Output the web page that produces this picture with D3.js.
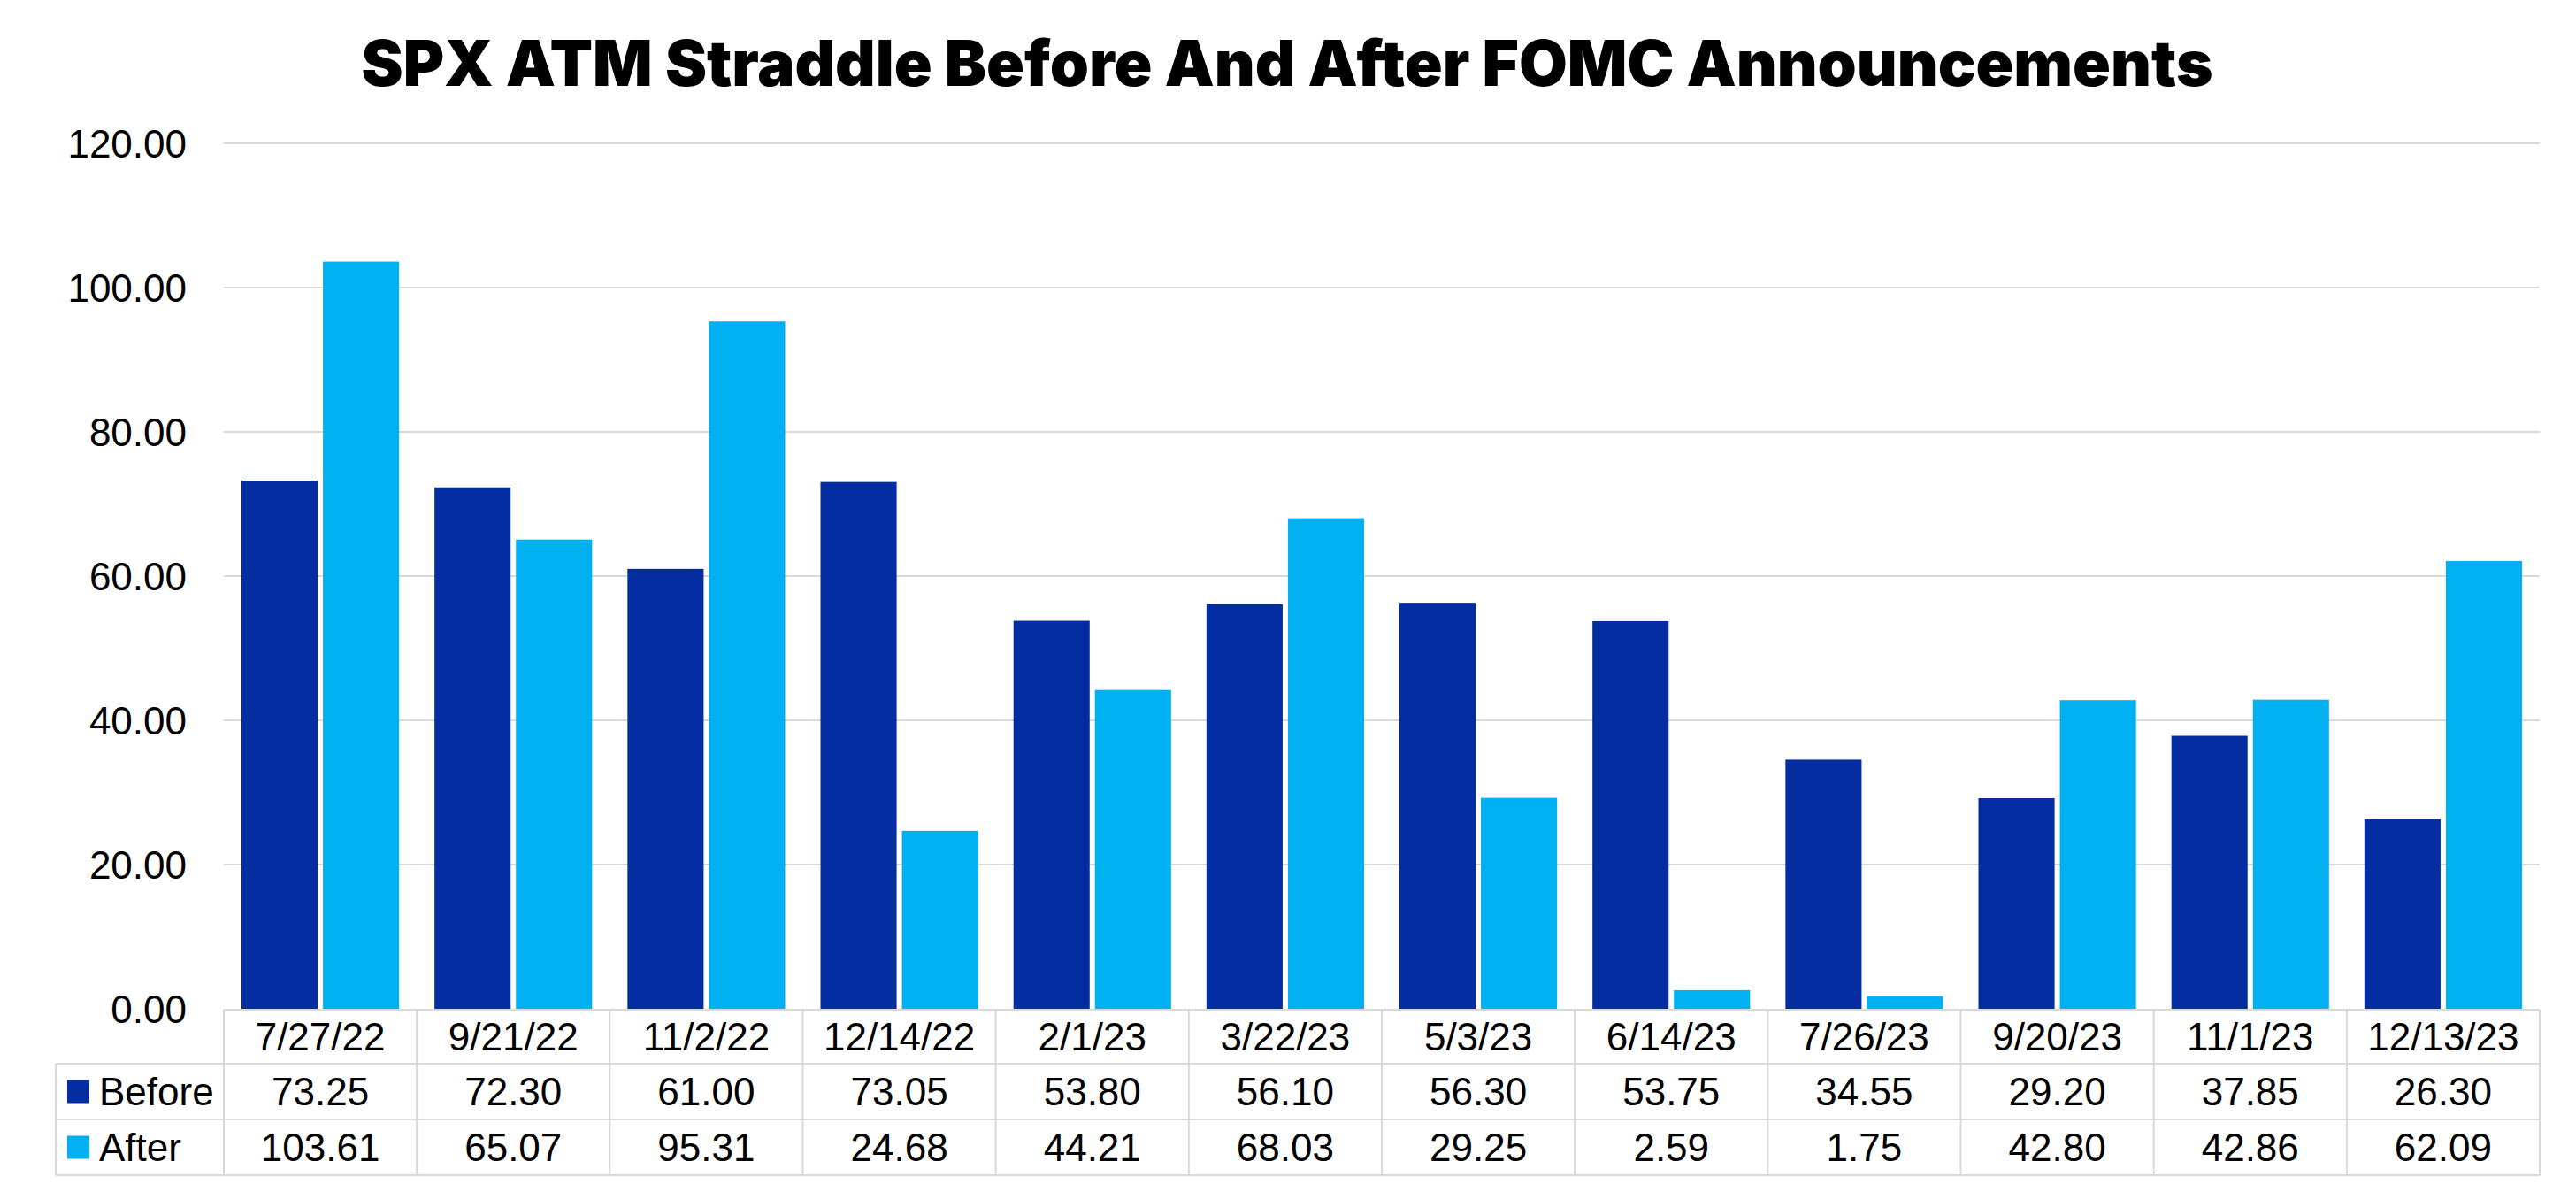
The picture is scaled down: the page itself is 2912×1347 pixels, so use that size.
<!DOCTYPE html>
<html>
<head>
<meta charset="utf-8">
<script src="https://cdn.jsdelivr.net/npm/d3@7"></script>
<style>
  html, body { margin: 0; padding: 0; background: #ffffff; }
  svg { display: block; }
</style>
</head>
<body>
<svg id="chart" width="2912" height="1347"></svg>
<script>
const categories = ["7/27/22", "9/21/22", "11/2/22", "12/14/22", "2/1/23", "3/22/23", "5/3/23", "6/14/23", "7/26/23", "9/20/23", "11/1/23", "12/13/23"];
const beforeValues = [73.25, 72.30, 61.00, 73.05, 53.80, 56.10, 56.30, 53.75, 34.55, 29.20, 37.85, 26.30];
const afterValues = [103.61, 65.07, 95.31, 24.68, 44.21, 68.03, 29.25, 2.59, 1.75, 42.80, 42.86, 62.09];
const seriesNames = ["Before", "After"];
const yTicks = [0, 20, 40, 60, 80, 100, 120];
const titleText = "SPX ATM Straddle Before And After FOMC Announcements";

const colors = { Before: "#032DA0", After: "#00B0F0" };
const seriesValues = { Before: beforeValues, After: afterValues };

const svg = d3.select("#chart");
const plotLeft = 253, plotRight = 2871, plotTop = 162, plotBottom = 1140;
const font = "'Liberation Sans', Arial, sans-serif";
const fs = 44;

// title
svg.append("text")
  .attr("x", 1455).attr("y", 97)
  .attr("text-anchor", "middle")
  .attr("font-family", "Inter, Lato, sans-serif")
  .attr("font-weight", 900)
  .attr("font-size", 71)
  .attr("textLength", 2093)
  .attr("lengthAdjust", "spacingAndGlyphs")
  .attr("fill", "#000")
  .text(titleText);

const x = d3.scaleBand().domain(categories).range([plotLeft, plotRight]).padding(0);
const xInner = d3.scaleBand().domain(seriesNames)
  .range([20, x.bandwidth() - 20]).paddingInner(0.065).paddingOuter(0);
const y = d3.scaleLinear().domain([0, 120]).range([plotBottom, plotTop]);

// gridlines
svg.append("g").selectAll("line").data(yTicks.filter(d => d > 0)).join("line")
  .attr("x1", plotLeft).attr("x2", plotRight)
  .attr("y1", d => y(d)).attr("y2", d => y(d))
  .attr("stroke", "#d9d9d9").attr("stroke-width", 2);

// y axis
const yAxis = d3.axisLeft(y).tickValues(yTicks).tickFormat(d3.format(".2f")).tickSize(0).tickPadding(0);
const yg = svg.append("g").attr("transform", "translate(211,0)").call(yAxis);
yg.select(".domain").remove();
yg.selectAll("text").attr("font-family", font).attr("font-size", fs).attr("fill", "#000").attr("dy", "0.35em");

// bars
const groups = svg.append("g").selectAll("g").data(categories).join("g")
  .attr("transform", d => `translate(${x(d)},0)`);
groups.selectAll("rect")
  .data((c, i) => seriesNames.map(s => ({ s, v: seriesValues[s][i] })))
  .join("rect")
  .attr("x", d => xInner(d.s))
  .attr("width", xInner.bandwidth())
  .attr("y", d => y(d.v))
  .attr("height", d => plotBottom - y(d.v))
  .attr("fill", d => colors[d.s]);

// data table
const rowTops = [1141, 1202, 1265, 1328];
const legendLeft = 63;
const tbl = svg.append("g");
const gridColor = "#d9d9d9";
tbl.append("line").attr("x1", plotLeft).attr("x2", plotRight).attr("y1", rowTops[0]).attr("y2", rowTops[0]).attr("stroke", gridColor).attr("stroke-width", 2);
[1, 2, 3].forEach(r => {
  tbl.append("line").attr("x1", legendLeft).attr("x2", plotRight).attr("y1", rowTops[r]).attr("y2", rowTops[r]).attr("stroke", gridColor).attr("stroke-width", 2);
});
tbl.append("line").attr("x1", legendLeft).attr("x2", legendLeft).attr("y1", rowTops[1]).attr("y2", rowTops[3]).attr("stroke", gridColor).attr("stroke-width", 2);
const vx = categories.map(c => x(c)).concat([plotRight]);
tbl.selectAll("line.v").data(vx).join("line").attr("class", "v")
  .attr("x1", d => d).attr("x2", d => d)
  .attr("y1", rowTops[0]).attr("y2", rowTops[3])
  .attr("stroke", gridColor).attr("stroke-width", 2);

tbl.selectAll("text.cat").data(categories).join("text").attr("class", "cat")
  .attr("x", d => x(d) + x.bandwidth() / 2)
  .attr("y", (rowTops[0] + rowTops[1]) / 2)
  .attr("dy", "0.35em").attr("text-anchor", "middle")
  .attr("font-family", font).attr("font-size", fs).attr("fill", "#000")
  .text(d => d);

seriesNames.forEach((s, si) => {
  const cy = (rowTops[si + 1] + rowTops[si + 2]) / 2;
  tbl.append("rect").attr("x", 76).attr("y", cy - 13).attr("width", 25).attr("height", 26).attr("fill", colors[s]);
  tbl.append("text").attr("x", 112).attr("y", cy).attr("dy", "0.35em")
    .attr("font-family", font).attr("font-size", fs).attr("fill", "#000").text(s);
  tbl.selectAll("text.v" + si).data(seriesValues[s]).join("text").attr("class", "v" + si)
    .attr("x", (d, i) => x(categories[i]) + x.bandwidth() / 2)
    .attr("y", cy).attr("dy", "0.35em").attr("text-anchor", "middle")
    .attr("font-family", font).attr("font-size", fs).attr("fill", "#000")
    .text(d => d3.format(".2f")(d));
});
</script>
</body>
</html>
